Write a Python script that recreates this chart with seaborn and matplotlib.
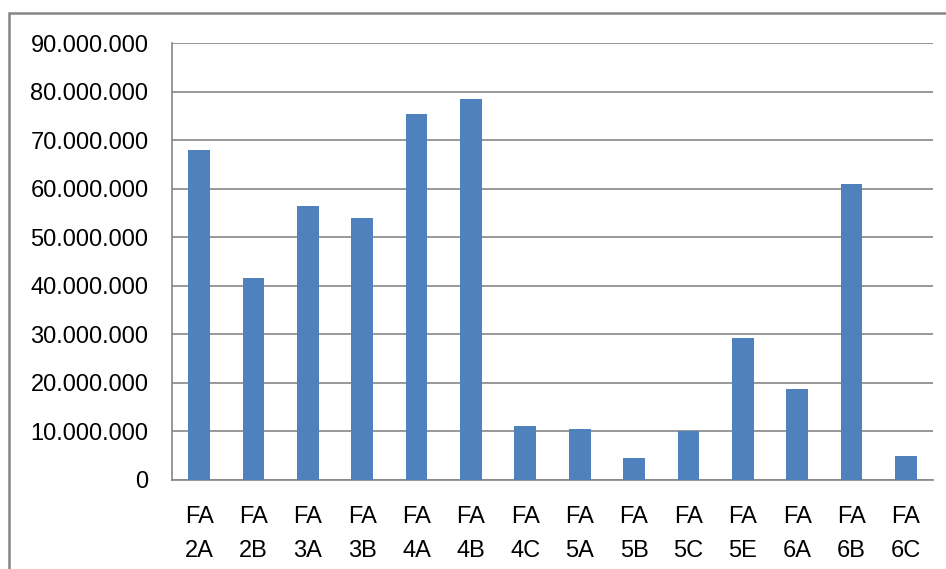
import matplotlib
matplotlib.use("Agg")
import matplotlib.pyplot as plt
from matplotlib.ticker import FuncFormatter, MultipleLocator, FixedLocator
from matplotlib.patches import Rectangle
import pandas as pd
import seaborn as sns

# Sample groups and measured totals
groups = ["FA 2A", "FA 2B", "FA 3A", "FA 3B", "FA 4A", "FA 4B", "FA 4C",
          "FA 5A", "FA 5B", "FA 5C", "FA 5E", "FA 6A", "FA 6B", "FA 6C"]
values = [67_900_000, 41_600_000, 56_400_000, 53_900_000, 75_300_000,
          78_400_000, 11_100_000, 10_500_000, 4_500_000, 10_100_000,
          29_200_000, 18_700_000, 60_900_000, 4_900_000]
y_ticks = list(range(0, 90_000_001, 10_000_000))

df = pd.DataFrame({"group": groups, "value": values})

sns.set_theme(style="white")
plt.rcParams["font.family"] = ["Liberation Sans", "DejaVu Sans"]

grid_color = "#868686"
fig = plt.figure(figsize=(9.46, 5.69), dpi=100)
ax = fig.add_axes([172 / 946, 1 - 480 / 569, (933 - 172) / 946, (480 - 43) / 569])

sns.barplot(data=df, x="group", y="value", color="#4F81BD", width=0.4,
            saturation=1, linewidth=0, ax=ax, zorder=3)

ax.set_ylim(0, 90_000_000)
ax.set_xlim(-0.5, len(groups) - 0.5)
ax.yaxis.set_major_locator(FixedLocator(y_ticks))
ax.yaxis.set_major_formatter(FuncFormatter(lambda v, _: f"{int(v):,}".replace(",", ".")))
ax.grid(axis="y", color=grid_color, linewidth=1.2, zorder=0)
ax.grid(axis="x", visible=False)

ax.set_xticks(range(len(groups)))
ax.set_xticklabels([g.replace(" ", "\n") for g in groups], linespacing=1.7)
ax.xaxis.set_minor_locator(MultipleLocator(1, offset=0.5))
ax.tick_params(axis="x", which="major", length=0, pad=19, labelsize=17, colors="black")
ax.tick_params(axis="x", which="minor", length=8, width=1.2, color=grid_color, direction="out")
ax.tick_params(axis="y", which="major", length=8, width=1.2, color=grid_color,
               direction="out", pad=9, labelsize=17, labelcolor="black")

ax.set_xlabel("")
ax.set_ylabel("")
for side in ("top", "right"):
    ax.spines[side].set_visible(False)
for side in ("left", "bottom"):
    ax.spines[side].set_color(grid_color)
    ax.spines[side].set_linewidth(1.2)

# Chart-area border
fig.patches.append(Rectangle((9 / 946, -0.1), 1.2, 1 - 13 / 569 + 0.1,
                             transform=fig.transFigure, fill=False,
                             edgecolor=grid_color, linewidth=1.8))

fig.savefig("out.png", dpi=100)
